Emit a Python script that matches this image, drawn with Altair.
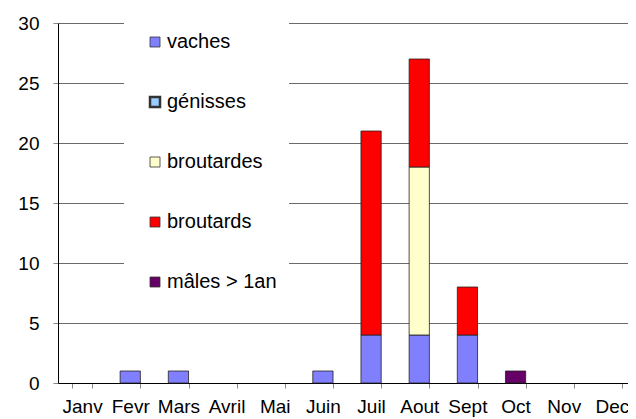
import altair as alt
import pandas as pd

months = ["Janv", "Fevr", "Mars", "Avril", "Mai", "Juin", "Juil", "Aout", "Sept", "Oct", "Nov", "Dec"]
series = ["vaches", "génisses", "broutardes", "broutards", "mâles > 1an"]
colors = ["#8080FF", "#99CCFF", "#FFFFCC", "#FF0000", "#660066"]

vaches = [0, 1, 1, 0, 0, 1, 4, 4, 4, 0, 0, 0]
genisses = [0, 0, 0, 0, 0, 0, 0, 0, 0, 0, 0, 0]
broutardes = [0, 0, 0, 0, 0, 0, 0, 14, 0, 0, 0, 0]
broutards = [0, 0, 0, 0, 0, 0, 17, 9, 4, 0, 0, 0]
males = [0, 0, 0, 0, 0, 0, 0, 0, 0, 1, 0, 0]

rows = []
for si, (name, vals) in enumerate(zip(series, [vaches, genisses, broutardes, broutards, males])):
    for m, v in zip(months, vals):
        if v > 0:
            rows.append({"mois": m, "serie": name, "valeur": v, "ordre": si})
df = pd.DataFrame(rows)

FONT = "Liberation Sans"

chart = alt.Chart(df).mark_bar(stroke="#222222", strokeWidth=0.8).encode(
    x=alt.X("mois:N", sort=months,
            scale=alt.Scale(domain=months, range=[0, 578], paddingInner=0.58, paddingOuter=0.29),
            axis=alt.Axis(title=None, labelAngle=0, tickBand="extent", labelFontSize=19, labelFont=FONT,
                          labelColor="black", domainColor="black", tickColor="#888888", tickSize=5,
                          labelPadding=9, grid=False)),
    y=alt.Y("valeur:Q", stack="zero", scale=alt.Scale(domain=[0, 30], nice=False),
            axis=alt.Axis(title=None, values=[0, 5, 10, 15, 20, 25, 30], labelFontSize=19, labelFont=FONT,
                          labelColor="black", domainColor="black", tickColor="#888888", tickSize=5,
                          labelPadding=14, gridColor="#6a6a6a", gridWidth=1)),
    color=alt.Color("serie:N", scale=alt.Scale(domain=series, range=colors),
                    legend=alt.Legend(title=None, orient="none", legendX=66, legendY=-3,
                                      fillColor="white", padding=12, rowPadding=40,
                                      symbolType="square", symbolSize=100, symbolOffset=9,
                                      symbolStrokeColor="#333333",
                                      symbolStrokeWidth={"expr": "datum.label === 'génisses' ? 2.5 : 0.8"},
                                      labelFontSize=20, labelFont=FONT, labelColor="black", labelOffset=2,
                                      labelExpr="datum.label + '\u00a0\u00a0\u00a0'")),
    order=alt.Order("ordre:Q", sort="ascending"),
).properties(
    width=570, height=360,
    autosize=alt.AutoSizeParams(type="none"),
    padding={"left": 50, "top": 15, "right": 0, "bottom": 36},
).configure_view(strokeWidth=0).configure(background="white")

chart.save("out.html", embed_options={"renderer": "svg", "actions": False})
